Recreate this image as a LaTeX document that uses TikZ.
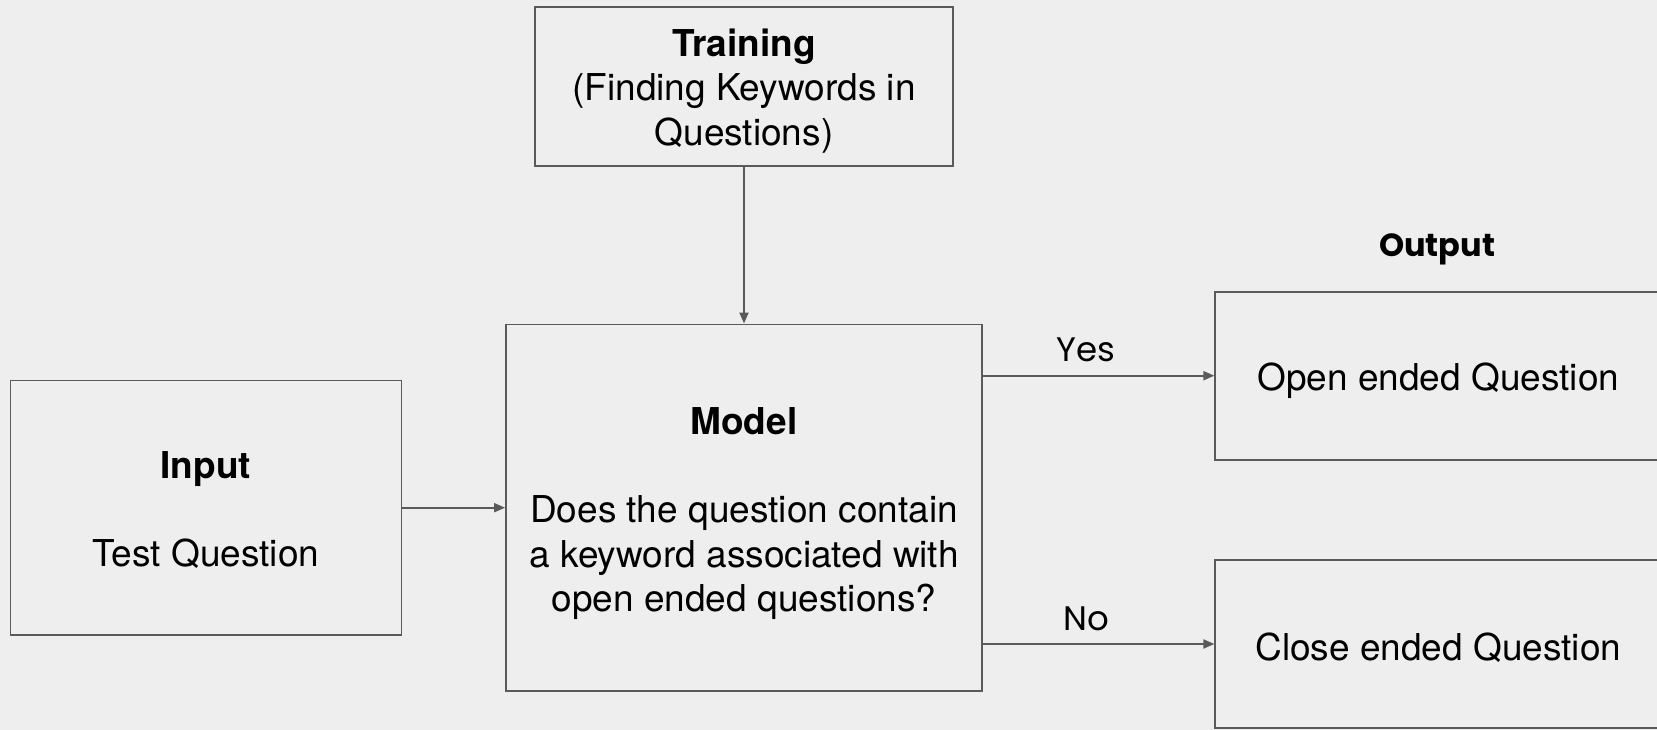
\documentclass[tikz,border=0pt]{standalone}
\usepackage{fontspec}
\setmainfont{TeX Gyre Heros}
\newfontfamily\geo{Poppins}
\usetikzlibrary{arrows.meta}
\definecolor{bg}{HTML}{EEEEEE}
\definecolor{ln}{HTML}{5A5A5A}
\newcommand\topfix[1][38]{\rule{0pt}{#1pt}}
\begin{document}
\begin{tikzpicture}[x=1pt,y=-1pt,
  box/.style={draw=ln, line width=1.8pt, inner sep=0pt, align=center,
    font=\fontsize{37}{44.4}\selectfont, text=black},
  conn/.style={draw=ln, line width=1.8pt, -{Triangle[length=11pt,width=9pt]}},
  lbl/.style={font=\geo\fontsize{34}{40}\selectfont, text=black, inner sep=0pt},
  ttl/.style={font=\geo\bfseries\fontsize{32}{40}\selectfont, text=black, inner sep=0pt}]
\useasboundingbox (0,0) rectangle (1657,730);
\fill[bg] (0,0) rectangle (1657,730);
\clip (0,0) rectangle (1657,730);
\node[box, minimum width=418.5pt, minimum height=158.5pt] (train) at (744,86.6)
  {\topfix[36]\textbf{Training}\\(Finding Keywords in\\Questions)};
\node[box, minimum width=476pt, minimum height=366.6pt] (model) at (744,507.7)
  {\topfix[39]\textbf{Model}\\[43.3pt]Does the question contain\\a keyword associated with\\open ended questions?};
\node[box, minimum width=391pt, minimum height=254.6pt] (input) at (206,507.7)
  {\topfix[32]\textbf{Input}\\[43.3pt]Test Question};
\node[box, minimum width=446pt, minimum height=168pt] (open) at (1438.3,375.7)
  {\topfix Open ended Question};
\node[box, minimum width=446pt, minimum height=168pt] (close) at (1438.3,644)
  {\topfix[35]Close ended Question};
\node[ttl] (out) at (1437,249) {Output};
\node[lbl] (yes) at (1086,350) {Yes};
\node[lbl] (no) at (1086,619) {No};
\draw[conn] (train.south) -- (model.north);
\draw[conn] (input.east) -- (model.west);
\draw[conn] (model.east |- open.west) -- (open.west);
\draw[conn] (model.east |- close.west) -- (close.west);
\end{tikzpicture}
\end{document}
